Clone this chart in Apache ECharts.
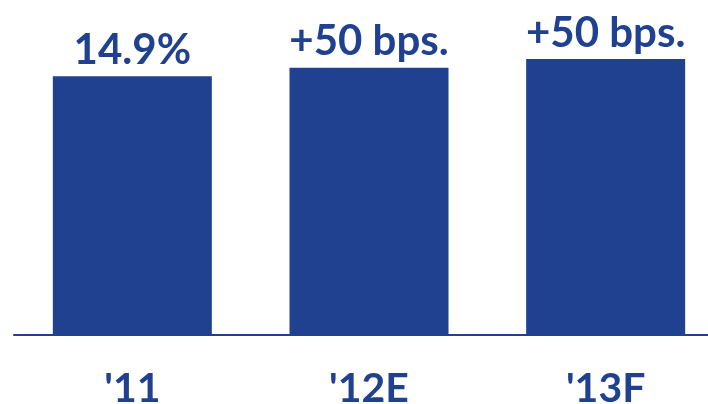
<!DOCTYPE html>
<html>
<head>
<meta charset="utf-8">
<script src="https://cdn.jsdelivr.net/npm/echarts@6/dist/echarts.min.js"></script>
<style>
html, body { margin: 0; padding: 0; background: #fff; }
#chart { width: 708px; height: 404px; }
</style>
</head>
<body>
<div id="chart"></div>
<script>
const categories = ["'11", "'12E", "'13F"];
const margins = [14.9, 15.4, 15.9];
const barLabels = ["14.9%", "+50 bps.", "+50 bps."];

const color = {
    main: "#204190",
};
const font = "Lato";

const chart = echarts.init(document.getElementById("chart"));
chart.setOption({
    animation: false,
    grid: {
        left: 14,
        right: -16,
        top: 59,
        bottom: 69,
        outerBoundsMode: "none",
    },
    xAxis: {
        type: "category",
        data: categories,
        axisLine: {
            show: true,
            lineStyle: { color: color.main, width: 2 },
        },
        axisTick: { show: false },
        axisLabel: {
            color: color.main,
            fontFamily: font,
            fontWeight: "bold",
            fontSize: 41,
            margin: 33,
        },
    },
    yAxis: {
        type: "value",
        min: 0,
        max: 15.9,
        show: false,
        splitLine: { show: false },
    },
    series: [{
        type: "bar",
        data: margins,
        barWidth: 159,
        itemStyle: { color: color.main },
        label: {
            show: true,
            position: "top",
            distance: 5,
            color: color.main,
            fontFamily: font,
            fontWeight: "bold",
            fontSize: 42,
            formatter: function (p) {
                return barLabels[p.dataIndex];
            },
        },
    }],
});
</script>
</body>
</html>
